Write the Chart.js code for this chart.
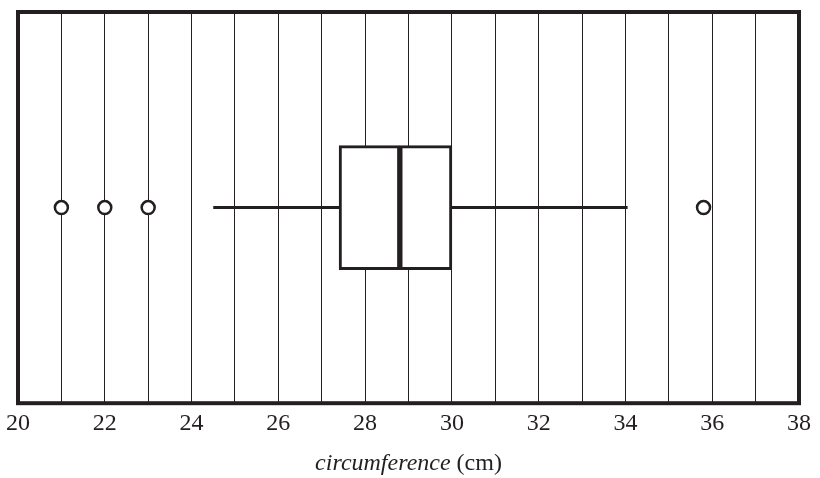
<!DOCTYPE html>
<html lang="en">
<head>
<meta charset="UTF-8">
<title>Circumference box plot</title>
<script src="https://cdn.jsdelivr.net/npm/chart.js"></script>
<style>
  body, html { margin: 0; background: #fff; }
  #wrap { width: 820px; height: 478px; }
</style>
</head>
<body>
<div id="wrap"><canvas id="boxChart" width="820" height="478"></canvas></div>
<script>
// data
const axisRange = [20, 38];
const quartiles = [27.4, 28.8, 30.0];   // Q1, median, Q3
const whiskers = [24.5, 34.05];         // lower, upper
const outliers = [21, 22, 23, 35.8];
const axisTitle = ['circumference', ' (cm)'];

const ink = '#231f20';
const row = 1;

// thick frame round the plot + the mixed italic/regular axis title
const framePlugin = {
  id: 'frame',
  afterDraw(chart) {
    const { ctx, chartArea: a } = chart;
    ctx.save();
    ctx.strokeStyle = ink;
    ctx.lineWidth = 4;
    ctx.strokeRect(a.left, a.top, a.right - a.left, a.bottom - a.top);

    ctx.fillStyle = ink;
    ctx.textBaseline = 'alphabetic';
    ctx.font = 'italic 24px "Liberation Serif"';
    const w1 = ctx.measureText(axisTitle[0]).width;
    ctx.font = '24px "Liberation Serif"';
    const w2 = ctx.measureText(axisTitle[1]).width;
    const x0 = (a.left + a.right) / 2 - (w1 + w2) / 2;
    const y = 470;
    ctx.font = 'italic 24px "Liberation Serif"';
    ctx.fillText(axisTitle[0], x0, y);
    ctx.font = '24px "Liberation Serif"';
    ctx.fillText(axisTitle[1], x0 + w1, y);
    ctx.restore();
  }
};

new Chart(document.getElementById('boxChart'), {
  type: 'scatter',
  data: {
    datasets: [
      {
        // whisker line, the box is laid over it
        type: 'line',
        showLine: true,
        data: [{ x: whiskers[0], y: row }, { x: whiskers[1], y: row }],
        borderColor: ink,
        borderWidth: 3,
        pointRadius: 0,
        order: 3
      },
      {
        // box as two halves, Q1-median and median-Q3
        type: 'bar',
        indexAxis: 'y',
        grouped: false,
        data: [
          { x: [quartiles[0], quartiles[1]], y: row },
          { x: [quartiles[1], quartiles[2]], y: row }
        ],
        backgroundColor: '#fff',
        borderColor: ink,
        borderWidth: 3,
        borderSkipped: false,
        barThickness: 124,
        order: 1
      },
      {
        data: outliers.map(v => ({ x: v, y: row })),
        pointRadius: 6.5,
        pointBorderWidth: 2.5,
        pointBackgroundColor: '#fff',
        pointBorderColor: ink,
        order: 0
      }
    ]
  },
  options: {
    responsive: false,
    animation: false,
    layout: { padding: { left: 18, right: 21, top: 12, bottom: 34 } },
    plugins: {
      legend: { display: false },
      tooltip: { enabled: false }
    },
    scales: {
      x: {
        type: 'linear',
        min: axisRange[0],
        max: axisRange[1],
        ticks: {
          stepSize: 1,
          autoSkip: false,
          maxRotation: 0,
          padding: 6,
          color: ink,
          font: { family: '"Liberation Serif"', size: 24 },
          callback: v => (v % 2 === 0 ? String(v) : '')
        },
        grid: { color: ink, lineWidth: 1, drawTicks: false },
        border: { display: false }
      },
      y: {
        type: 'linear',
        min: 0,
        max: 2,
        display: false
      }
    }
  },
  plugins: [framePlugin]
});
</script>
</body>
</html>
